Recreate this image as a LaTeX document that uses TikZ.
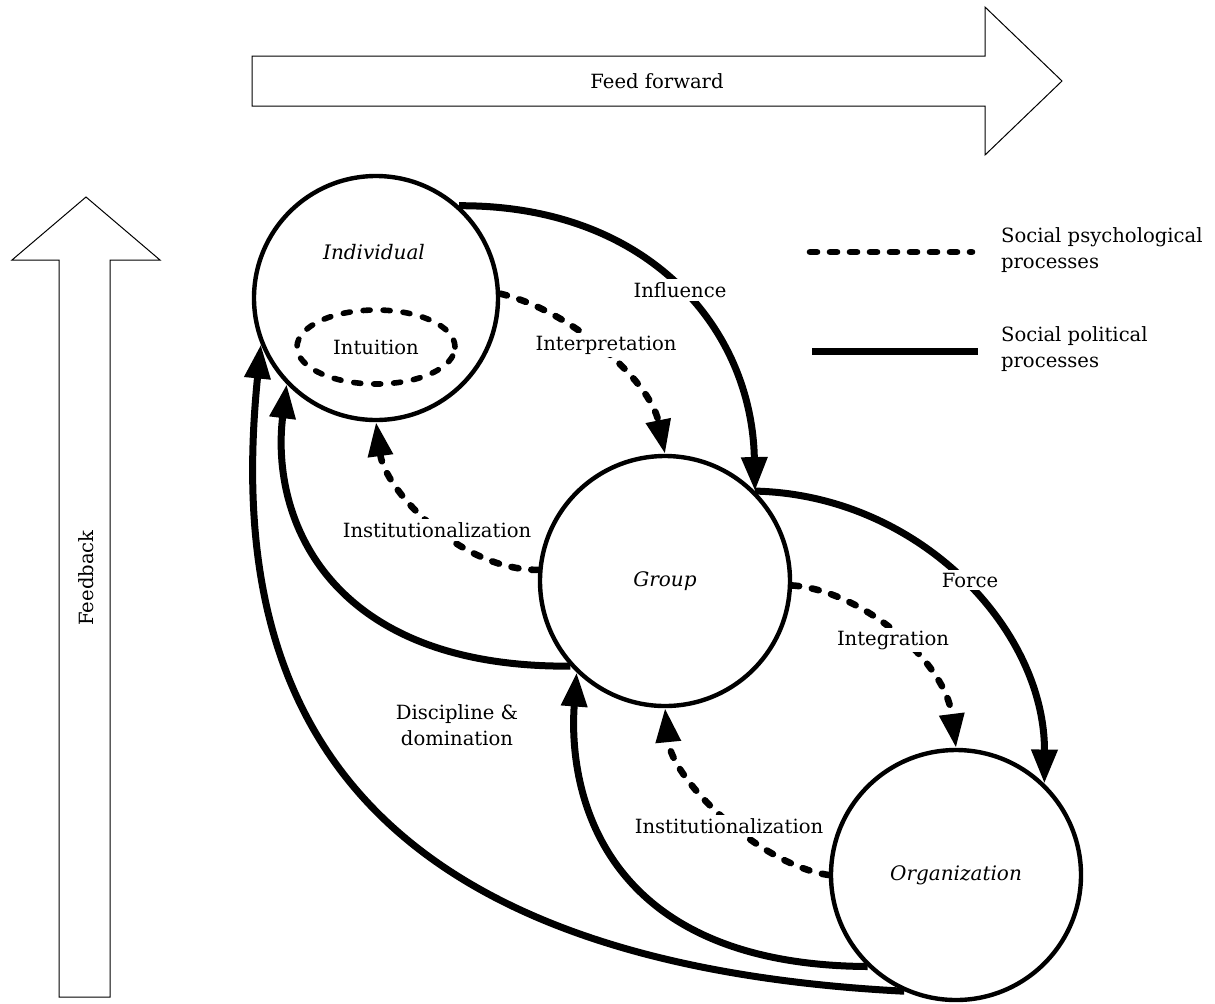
\documentclass[tikz,border=0pt]{standalone}
\usepackage{fontspec}
\setmainfont{DejaVu Serif}
\usetikzlibrary{arrows.meta,shapes.geometric}

\tikzset{
  levelnode/.style={circle,draw,line width=2.2pt,minimum size=#1,inner sep=0pt},
  bigarrow/.style={draw,line width=0.5pt},
  polline/.style={line width=3.5pt},
  polproc/.style={polline,-{Triangle[width=12.5pt,length=17pt]}},
  psyline/.style={line width=3.3pt,line cap=round,dash pattern=on 3.5pt off 6.5pt},
  psyproc/.style={psyline,-{Triangle[width=12pt,length=17pt]}},
  lbl/.style={fill=white,inner sep=1.5pt}
}

\begin{document}
\begin{tikzpicture}[x=0.5pt,y=-0.5pt,font=\fontsize{9.8}{13}\selectfont]
\useasboundingbox (0,0) rectangle (1215,1003);

\draw[bigarrow] (252,56) -- (985,56) -- (985,7) -- (1062,81) -- (985,155) -- (985,106) -- (252,106) -- cycle;
\node (feedfwd) at (657,81) {Feed forward};
\draw[bigarrow] (59,997) -- (59,260) -- (12,260) -- (86,197) -- (160,260) -- (110,260) -- (110,997) -- cycle;
\node[rotate=90] (feedback) at (86,578) {Feedback};

\node[levelnode=122pt] (ind) at (376,298) {};
\node[font=\itshape] (indtext) at (374,252) {Individual};
\node[ellipse,draw,psyline,line width=2.8pt,minimum width=79pt,minimum height=37pt] (intuition) at (376,347) {Intuition};
\node[levelnode=125pt,font=\itshape] (grp) at (665,581) {Group};
\node[levelnode=125pt,font=\itshape] (org) at (956,875) {Organization};

\draw[polproc] (ind.48) .. controls (650,205) and (752,330) .. (grp.45);
\draw[psyproc] (ind.2) .. controls (570,310) and (650,380) .. (grp.90);
\draw[polproc] (grp.45) .. controls (920,495) and (1045,630) .. (org.46);
\draw[psyproc] (grp.-2) .. controls (860,590) and (945,660) .. (org.90);
\draw[psyproc] (grp.175) .. controls (460,570) and (385,490) .. (ind.-90);
\draw[psyproc] (org.180) .. controls (760,865) and (672,780) .. (grp.-90);
\draw[polproc] (grp.222) .. controls (330,668) and (270,520) .. (ind.224);
\draw[polproc] (org.226) .. controls (600,965) and (568,790) .. (grp.226);
\draw[polproc] (org.246) .. controls (300,960) and (230,650) .. (ind.202);

\node[lbl] (influence) at (680,290) {Influence};
\node[lbl] (interp) at (606,345) {Interpretation};
\node[lbl] (force) at (970,580) {Force};
\node[lbl] (integ) at (893,640) {Integration};
\node[lbl] (inst1) at (437,530) {Institutionalization};
\node[lbl] (inst2) at (729,826) {Institutionalization};
\node[align=center] (discipline) at (457,725) {Discipline \&\\domination};

\coordinate (psyA) at (810,252);
\coordinate (psyB) at (972,252);
\coordinate (polA) at (812,351);
\coordinate (polB) at (978,351);
\draw[psyline] (psyA) -- (psyB);
\draw[polline] (polA) -- (polB);
\node[anchor=west,align=left] (psylegend) at (994,250) {Social psychological\\processes};
\node[anchor=west,align=left] (pollegend) at (994,349) {Social political\\processes};
\end{tikzpicture}
\end{document}
